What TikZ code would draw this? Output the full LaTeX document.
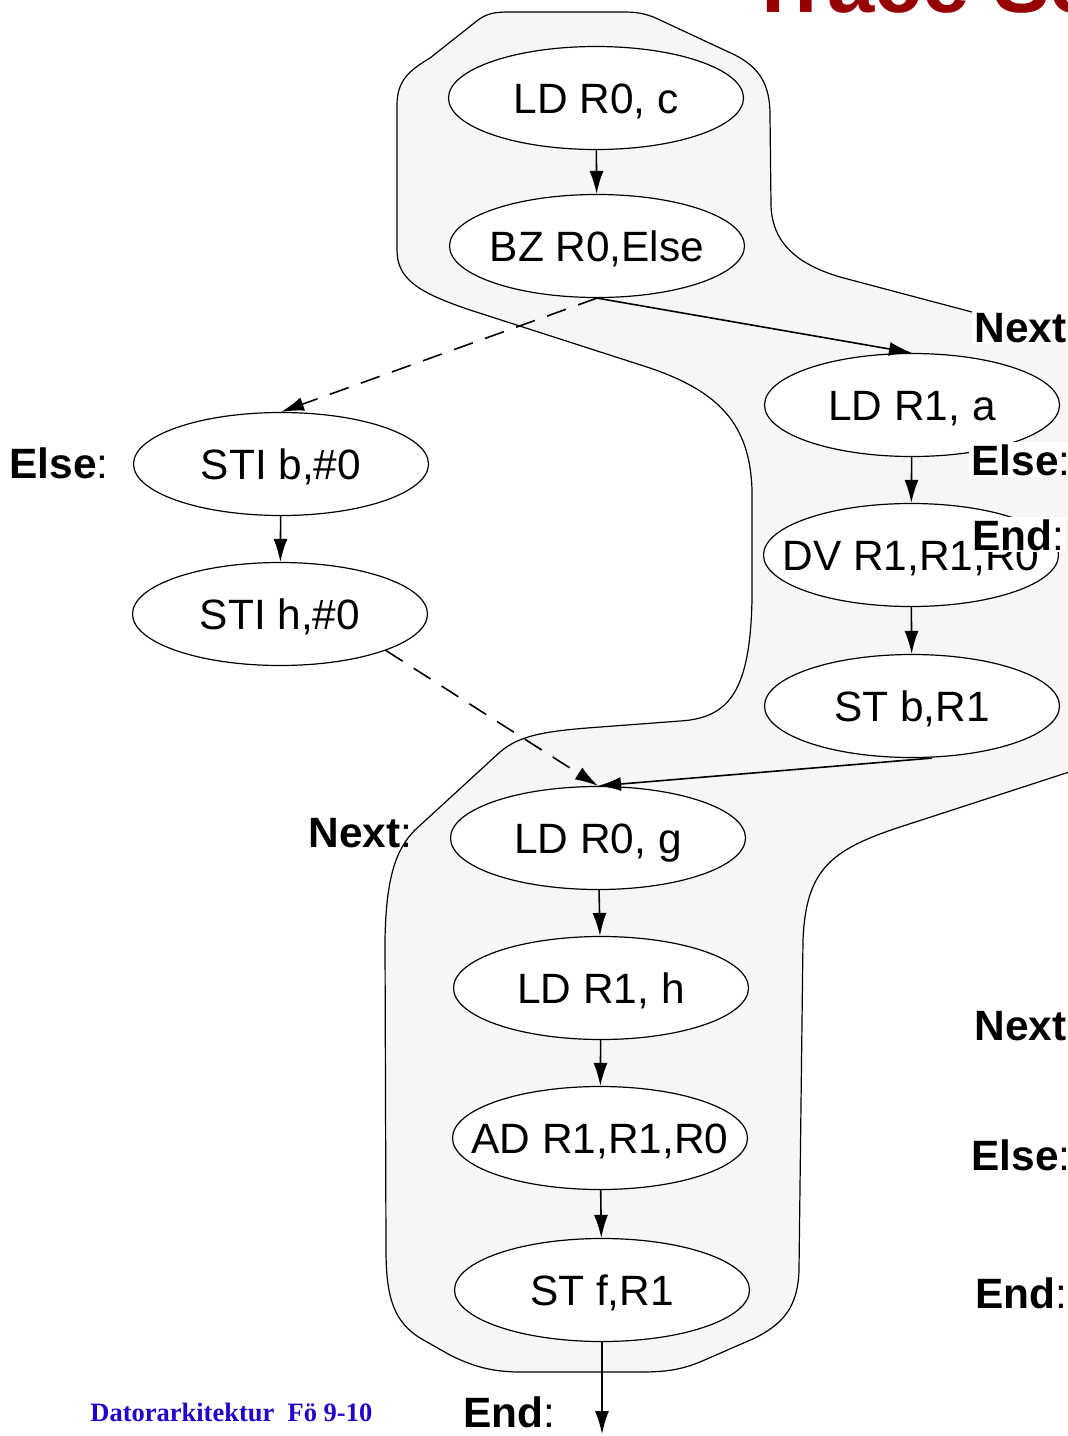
\documentclass[tikz,border=0pt]{standalone}
\usepackage{fontspec}
\setmainfont{Liberation Sans}
\newfontfamily\footfont{Liberation Serif}
\usetikzlibrary{arrows.meta}
\usetikzlibrary{shapes}

\definecolor{blobgray}{RGB}{246,246,246}
\definecolor{titlered}{RGB}{150,0,0}
\definecolor{footblue}{RGB}{36,0,204}

\tikzset{
	instr/.style={ellipse, draw, fill=white, line width=0.6pt,
		minimum width=147.5pt, minimum height=51.5pt,
		inner xsep=-30pt, inner ysep=0pt,
		text height=15.2pt, text depth=0pt,
		font=\fontsize{21.2}{25}\selectfont},
	flow/.style={line width=0.8pt, -{Latex[length=11.5pt,width=7pt]}},
	jump/.style={flow, dash pattern=on 10pt off 6.5pt},
	lbl/.style={anchor=base west, inner sep=0pt,
		font=\fontsize{21.2}{25}\selectfont},
	cover/.style={lbl, fill=white, inner sep=1pt}
}

\begin{document}
\begin{tikzpicture}[x=0.5pt, y=-0.5pt]
			\useasboundingbox (0,0) rectangle (1067,1436);
			%% the trace, shaded behind the instructions
			\filldraw[fill=blobgray, line width=0.6pt]
				(397,250) -- (397,105)
				.. controls (397,80) and (410,70) .. (430,58)
				-- (478,20) .. controls (488,13) and (495,12) .. (510,12)
				-- (625,12) .. controls (640,12) and (650,15) .. (660,20)
				-- (735,55) .. controls (760,68) and (770,85) .. (770,115)
				-- (771,205) .. controls (772,245) and (800,265) .. (840,277)
				-- (1100,346) -- (1100,762) -- (900,827)
				.. controls (830,850) and (806,870) .. (803,940)
				-- (799,1270) .. controls (798,1310) and (780,1325) .. (755,1338)
				-- (700,1362) .. controls (680,1370) and (665,1372) .. (640,1372)
				-- (520,1372) .. controls (490,1372) and (470,1365) .. (450,1355)
				-- (420,1338) .. controls (395,1322) and (386,1300) .. (386,1250)
				-- (385,940) .. controls (386,880) and (395,850) .. (415,830)
				-- (500,752) .. controls (520,735) and (545,731) .. (600,727)
				-- (680,721) .. controls (730,718) and (750,690) .. (752,600)
				-- (752,490) .. controls (750,425) and (720,392) .. (650,368)
				-- (470,310) .. controls (420,293) and (397,280) .. (397,250)
				-- cycle;
			%% slide title, runs off the page
			\node[anchor=base west, inner sep=0pt, text=titlered,
				font=\fontsize{42.5}{50}\selectfont\bfseries] (title)
				at (747,12) {Trace Sc};

			%% instructions
			\node[instr] (ldc) at (596,98) {LD R0, c};
			\node[instr] (bz) at (597,246) {BZ R0,Else};
			\node[instr] (lda) at (912,405) {LD R1, a};
			\node[instr] (dv) at (911,555) {DV R1,R1,R0};
			\node[instr] (stb) at (912,706) {ST b,R1};
			\node[instr] (stib) at (281,464) {STI b,\#0};
			\node[instr] (stih) at (280,614) {STI h,\#0};
			\node[instr] (ldg) at (598,838) {LD R0, g};
			\node[instr] (ldh) at (601,988) {LD R1, h};
			\node[instr] (ad) at (600,1138) {AD R1,R1,R0};
			\node[instr] (stf) at (602,1290) {ST f,R1};
			\coordinate (out) at (602,1434);

			%% control flow
			\draw[flow] (ldc) -- (bz);
			\draw[flow] (bz.south) -- (lda.north);
			\draw[jump] (bz.south) -- (stib.north);
			\draw[flow] (stib) -- (stih);
			\draw[jump] (stih.-19) -- (ldg.north);
			\draw[flow] (lda) -- (dv);
			\draw[flow] (dv) -- (stb);
			\draw[flow] ([xshift=10pt]stb.south) -- (ldg.north);
			\draw[flow] (ldg) -- (ldh);
			\draw[flow] (ldh) -- (ad);
			\draw[flow] (ad) -- (stf);
			\draw[flow] (stf) -- (out);

			%% labels
			\node[lbl] (elsel) at (9,478) {\textbf{Else}:};
			\node[lbl] (nextl) at (308,847) {\textbf{Next}:};
			\node[lbl] (endl) at (463,1427) {\textbf{End}:};
			\node[cover] (nextr) at (972,342) {\textbf{Next}};
			\node[cover] (elser) at (969,475) {\textbf{Else}:};
			\node[cover] (endr) at (970,550) {\textbf{End}:};
			\node[lbl] (nextb) at (974,1040) {\textbf{Next}};
			\node[lbl] (elseb) at (971,1170) {\textbf{Else}:};
			\node[lbl] (endb) at (975,1308) {\textbf{End}:};

			\node[anchor=base west, inner sep=0pt, text=footblue,
				font=\footfont\bfseries\fontsize{13.25}{16}\selectfont] (foot)
				at (90,1421) {Datorarkitektur\ \ Fö 9-10};
		\end{tikzpicture}
\end{document}
